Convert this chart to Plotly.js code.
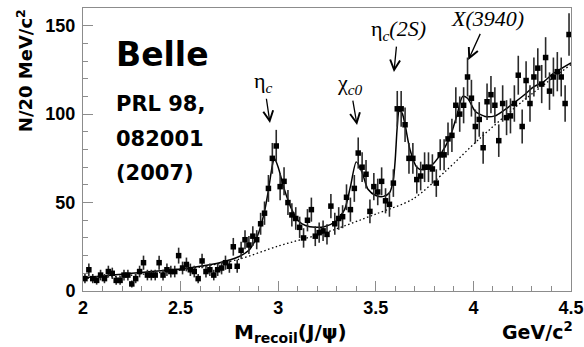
<!DOCTYPE html>
<html>
<head>
<meta charset="utf-8">
<script src="https://cdn.plot.ly/plotly-3.0.1.min.js"></script>
<style>
  html, body { margin: 0; padding: 0; background: #fff; }
  #chart { width: 584px; height: 347px; }
</style>
</head>
<body>
<div id="chart"></div>
<script>
// Recoil mass spectrum against J/psi, 20 MeV/c^2 bins from 2.0 to 4.5 GeV/c^2
const binLow = 2.0;
const binWidth = 0.02;

const counts = [
  7, 12, 7, 6, 9, 7, 11, 10, 6, 6,
  9, 9, 4, 7, 11, 16, 9, 9, 9, 16,
  9, 12, 11, 11, 20, 13, 15, 12, 11, 7,
  17, 11, 12, 9, 12, 13, 16, 14, 25, 14,
  23, 29, 26, 31, 29, 38, 44, 58, 75, 82,
  59, 62, 50, 43, 41, 36, 30, 40, 46, 31,
  33, 34, 32, 48, 38, 41, 42, 53, 46, 58,
  78, 70, 66, 45, 59, 56, 62, 51, 49, 61,
  103, 103, 94, 75, 75, 63, 65, 70, 70, 69,
  61, 77, 77, 86, 88, 105, 100, 105, 121, 109,
  93, 97, 81, 107, 111, 105, 85, 106, 98, 99,
  106, 122, 93, 119, 106, 121, 126, 117, 132, 113,
  121, 124, 121, 106, 145
];

const countErrors = [
  2.6, 3.5, 2.6, 2.4, 3.0, 2.6, 3.3, 3.2, 2.4, 2.4,
  3.0, 3.0, 2.0, 2.6, 3.3, 4.0, 3.0, 3.0, 3.0, 4.0,
  3.0, 3.5, 3.3, 3.3, 4.5, 3.6, 3.9, 3.5, 3.3, 2.6,
  4.1, 3.3, 3.5, 3.0, 3.5, 3.6, 4.0, 3.7, 5.0, 3.7,
  4.8, 5.4, 5.1, 5.6, 5.4, 6.2, 6.6, 7.6, 8.7, 9.1,
  7.7, 7.9, 7.1, 6.6, 6.4, 6.0, 5.5, 6.3, 6.8, 5.6,
  5.7, 5.8, 5.7, 6.9, 6.2, 6.4, 6.5, 7.3, 6.8, 7.6,
  8.8, 8.4, 8.1, 6.7, 7.7, 7.5, 7.9, 7.1, 7.0, 7.8,
  10.1, 10.1, 9.7, 8.7, 8.7, 7.9, 8.1, 8.4, 8.4, 8.3,
  7.8, 8.8, 8.8, 9.3, 9.4, 10.2, 10.0, 10.2, 11.0, 10.4,
  9.6, 9.8, 9.0, 10.3, 10.5, 10.2, 9.2, 10.3, 9.9, 9.9,
  10.3, 11.0, 9.6, 10.9, 10.3, 11.0, 11.2, 10.8, 11.5, 10.6,
  11.0, 11.1, 11.0, 10.3, 12.0
];

// Full fit (signal peaks + background)
const fitMass = [
  2.0, 2.1, 2.2, 2.3, 2.4, 2.5, 2.6, 2.7, 2.8, 2.85, 2.88, 2.9, 2.93, 2.95, 2.97, 2.98,
  3.0, 3.03, 3.07, 3.1, 3.14, 3.19, 3.24, 3.29, 3.34, 3.37, 3.40, 3.43, 3.46, 3.5,
  3.54, 3.57, 3.59, 3.60, 3.61, 3.62, 3.635, 3.65, 3.675, 3.71, 3.74, 3.78, 3.83,
  3.88, 3.915, 3.945, 3.97, 4.01, 4.06, 4.11, 4.16, 4.21, 4.26, 4.31, 4.36, 4.41, 4.5
];
const fitValue = [
  7.5, 8.5, 9.5, 10.5, 11.5, 12.5, 14, 16, 19.5, 23, 28, 33, 45, 57, 71, 75,
  70, 58, 46, 40, 37, 36, 36.5, 39, 46, 59, 73, 67, 57.5, 54,
  53.5, 55.5, 63, 75, 93, 102, 100.5, 94, 80, 70, 68.5, 70.5, 77,
  87, 99, 110, 109, 101.5, 98.7, 99, 102.4, 106.5, 110.8, 115.5, 118.3, 123, 129
];

// Background component of the fit
const bkgMass = [2.0, 2.2, 2.4, 2.6, 2.8, 3.0, 3.25, 3.5, 3.69, 3.86, 4.03, 4.26, 4.5];
const bkgValue = [7, 8.5, 10.5, 13.5, 18, 25.4, 33.3, 43.5, 52, 68, 86, 108, 128];

// Axis tick labels
const massTicks = [2, 2.5, 3, 3.5, 4, 4.5];
const massTickText = ['2', '2.5', '3', '3.5', '4', '4.5'];
const countTicks = [0, 50, 100, 150];
const countTickText = ['0', '50', '100', '150'];

const binCenters = counts.map((_, i) => binLow + binWidth * (i + 0.5));

const axisGray = '#8c8c8c';
const sansBold = { family: 'DejaVu Sans, Liberation Sans, sans-serif', weight: 'bold', color: '#000' };
const tickBold = { family: 'Liberation Sans, Arial, sans-serif', weight: 'bold', color: '#000', size: 18 };
const serif = { family: 'Liberation Serif, DejaVu Serif, serif', color: '#000', size: 22 };

const traces = [
  {
    x: bkgMass, y: bkgValue, type: 'scatter', mode: 'lines',
    line: { color: '#000', width: 1.3, dash: '1.5px,2.5px', shape: 'spline', smoothing: 0.8 },
    hoverinfo: 'skip'
  },
  {
    x: fitMass, y: fitValue, type: 'scatter', mode: 'lines',
    line: { color: '#000', width: 1.5, shape: 'spline', smoothing: 0.7 },
    hoverinfo: 'skip'
  },
  {
    x: binCenters, y: counts, type: 'scatter', mode: 'markers',
    marker: { symbol: 'square', size: 5.5, color: '#000' },
    error_y: { type: 'data', array: countErrors, visible: true, color: '#2a2a2a', thickness: 1.6, width: 0 }
  }
];

// Resonance label placed at (textX, textY) with an arrow pointing at (tipX, tipY)
function peakLabel(text, tipX, tipY, textX, textY) {
  return {
    text: text, x: tipX, y: tipY, ax: textX, ay: textY,
    xref: 'x', yref: 'y', axref: 'x', ayref: 'y',
    showarrow: true, arrowhead: 5, arrowsize: 1.5, arrowwidth: 1.3, arrowcolor: '#000',
    standoff: 0, startstandoff: 1, font: serif
  };
}

const annotations = [
  // axis titles
  { text: 'N/20 MeV/c<sup>2</sup>', xref: 'paper', yref: 'paper', x: -0.119, y: 0.78,
    textangle: -90, showarrow: false, xanchor: 'center', yanchor: 'middle',
    font: Object.assign({ size: 18 }, sansBold) },
  { text: 'M<sub>recoil</sub>(J/ψ)', xref: 'paper', yref: 'paper', x: 0.426, y: -0.15,
    showarrow: false, xanchor: 'center', yanchor: 'middle',
    font: Object.assign({ size: 20 }, sansBold) },
  { text: 'GeV/c<sup>2</sup>', xref: 'paper', yref: 'paper', x: 1.008, y: -0.19,
    showarrow: false, xanchor: 'right', yanchor: 'bottom',
    font: Object.assign({ size: 19 }, sansBold) },
  // experiment and reference
  { text: 'Belle', xref: 'paper', yref: 'paper', x: 0.064, y: 0.837,
    showarrow: false, xanchor: 'left', yanchor: 'middle',
    font: Object.assign({ size: 33 }, sansBold) },
  { text: 'PRL 98,', xref: 'paper', yref: 'paper', x: 0.064, y: 0.661,
    showarrow: false, xanchor: 'left', yanchor: 'middle',
    font: Object.assign({ size: 21 }, sansBold) },
  { text: '082001', xref: 'paper', yref: 'paper', x: 0.064, y: 0.537,
    showarrow: false, xanchor: 'left', yanchor: 'middle',
    font: Object.assign({ size: 21 }, sansBold) },
  { text: '(2007)', xref: 'paper', yref: 'paper', x: 0.064, y: 0.417,
    showarrow: false, xanchor: 'left', yanchor: 'middle',
    font: Object.assign({ size: 21 }, sansBold) },
  // resonance labels with arrows
  peakLabel('η<sub><i>c</i></sub>', 2.958, 95, 2.927, 118),
  peakLabel('χ<sub><i>c0</i></sub>', 3.404, 93.8, 3.368, 117),
  peakLabel('η<sub><i>c</i></sub><i>(2S)</i>', 3.593, 123.8, 3.614, 147.5),
  peakLabel('<i>X(3940)</i>', 3.974, 130.6, 4.07, 153.8)
];

const commonAxis = {
  showgrid: false, zeroline: false, showline: true, mirror: true,
  linecolor: axisGray, linewidth: 1,
  ticks: 'inside', ticklen: 10, tickwidth: 1, tickcolor: axisGray,
  ticklabeloverflow: 'allow',
  tickfont: tickBold
};

const layout = {
  width: 584, height: 347,
  margin: { l: 83, r: 13, t: 8, b: 56, pad: 0 },
  paper_bgcolor: '#fff', plot_bgcolor: '#fff',
  showlegend: false,
  xaxis: Object.assign({}, commonAxis, {
    range: [2, 4.5001], tickmode: 'array', tickvals: massTicks, ticktext: massTickText,
    minor: { tickmode: 'linear', tick0: 2, dtick: 0.1, ticks: 'inside', ticklen: 5, tickcolor: axisGray, showgrid: false }
  }),
  yaxis: Object.assign({}, commonAxis, {
    range: [0, 160], tickmode: 'array', tickvals: countTicks, ticktext: countTickText, ticklabelstandoff: 3,
    minor: { tickmode: 'linear', tick0: 0, dtick: 10, ticks: 'inside', ticklen: 5, tickcolor: axisGray, showgrid: false }
  }),
  annotations: annotations
};

Plotly.newPlot('chart', traces, layout, { staticPlot: true, displayModeBar: false });
</script>
</body>
</html>
